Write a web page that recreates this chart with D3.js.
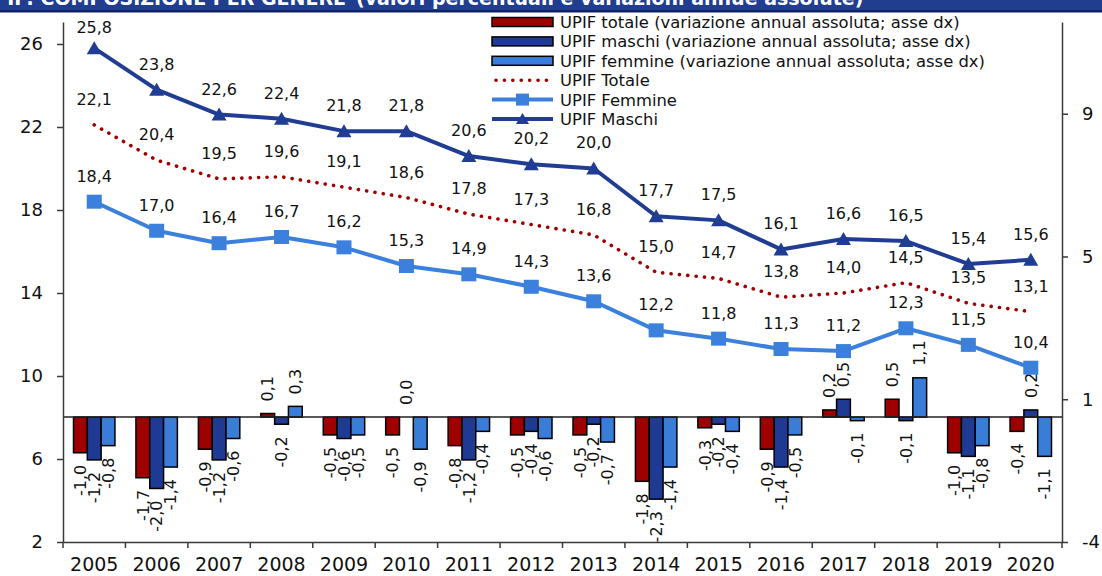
<!DOCTYPE html>
<html lang="it">
<head>
  <meta charset="utf-8">
  <title>UPIF per genere</title>
  <script src="https://cdnjs.cloudflare.com/ajax/libs/d3/7.8.5/d3.min.js"></script>
  <style>
    body { margin: 0; background: #fff; }
    svg { display: block; font-family: "DejaVu Sans", sans-serif; }
    .axis path, .axis line { stroke: #3a3a3a; stroke-width: 1.5; }
    .axis text { fill: #111; font-family: "DejaVu Sans", sans-serif; }
  </style>
</head>
<body>
<svg id="chart" width="1102" height="576"></svg>
<script>
// ---- data ----
var years = ["2005","2006","2007","2008","2009","2010","2011","2012","2013","2014","2015","2016","2017","2018","2019","2020"];

// lines (left axis, %)
var upifMaschi  = [25.8, 23.8, 22.6, 22.4, 21.8, 21.8, 20.6, 20.2, 20.0, 17.7, 17.5, 16.1, 16.6, 16.5, 15.4, 15.6];
var upifTotale  = [22.1, 20.4, 19.5, 19.6, 19.1, 18.6, 17.8, 17.3, 16.8, 15.0, 14.7, 13.8, 14.0, 14.5, 13.5, 13.1];
var upifFemmine = [18.4, 17.0, 16.4, 16.7, 16.2, 15.3, 14.9, 14.3, 13.6, 12.2, 11.8, 11.3, 11.2, 12.3, 11.5, 10.4];

// bars (right axis, annual change)
var varTotale  = [-1.0, -1.7, -0.9, 0.1, -0.5, -0.5, -0.8, -0.5, -0.5, -1.8, -0.3, -0.9, 0.2, 0.5, -1.0, -0.4];
var varMaschi  = [-1.2, -2.0, -1.2, -0.2, -0.6, 0.0, -1.2, -0.4, -0.2, -2.3, -0.2, -1.4, 0.5, -0.1, -1.1, 0.2];
var varFemmine = [-0.8, -1.4, -0.6, 0.3, -0.5, -0.9, -0.4, -0.6, -0.7, -1.4, -0.4, -0.5, -0.1, 1.1, -0.8, -1.1];

var leftTicks = [2, 6, 10, 14, 18, 22, 26];
var rightTicks = [-3.5, 0.5, 4.5, 8.5];
var rightTickLabels = ["-4", "1", "5", "9"];

var titleMain = "UPIF: COMPOSIZIONE PER GENERE";
var titleSub = "(valori percentuali e variazioni annue assolute)";

var barSeries = [
  { name: "UPIF totale (variazione annual assoluta; asse dx)", values: varTotale, color: "#9e0000" },
  { name: "UPIF maschi (variazione annual assoluta; asse dx)", values: varMaschi, color: "#1f3a93" },
  { name: "UPIF femmine (variazione annual assoluta; asse dx)", values: varFemmine, color: "#3a7dd8" }
];
var lineSeries = [
  { name: "UPIF Totale", values: upifTotale, color: "#a00000", marker: null, dotted: true },
  { name: "UPIF Femmine", values: upifFemmine, color: "#3a80dc", marker: "square" },
  { name: "UPIF Maschi", values: upifMaschi, color: "#203c93", marker: "triangle" }
];

// ---- layout ----
var svg = d3.select("#chart");
var plotLeft = 63, plotRight = 1062, plotTop = 22, plotBottom = 542;

var x = d3.scaleBand().domain(years).range([plotLeft, plotRight]).paddingInner(0).paddingOuter(0);
var yL = d3.scaleLinear().domain([2, 27.06]).range([plotBottom, plotTop]);
var yR = d3.scaleLinear().domain([-3.5, 11.07]).range([plotBottom, plotTop]);
var xs = d3.scaleBand().domain(barSeries.map(function (s) { return s.name; }))
  .range([10.5, x.bandwidth() - 10.5]).padding(0);

// title bar (cut off at the top)
svg.append("rect").attr("x", 0).attr("y", 0).attr("width", 1102).attr("height", 11).attr("fill", "#213d8f");
svg.append("rect").attr("x", 0).attr("y", 10).attr("width", 1102).attr("height", 2.5).attr("fill", "#0c2264");
svg.append("clipPath").attr("id", "titleclip").append("rect")
  .attr("x", 0).attr("y", 0).attr("width", 1102).attr("height", 10);
var title = svg.append("g").attr("clip-path", "url(#titleclip)")
  .attr("fill", "#fff").attr("font-weight", "bold").attr("font-size", 19);
title.append("text").attr("x", 346).attr("y", 5).attr("text-anchor", "end").text(titleMain);
title.append("text").attr("x", 356).attr("y", 5).text(titleSub);

// bars
var zeroY = yR(0);
barSeries.forEach(function (s) {
  var g = svg.append("g");
  g.selectAll("rect").data(s.values).enter().append("rect")
    .attr("x", function (d, i) { return x(years[i]) + xs(s.name); })
    .attr("width", xs.bandwidth())
    .attr("y", function (d) { return Math.min(yR(d), zeroY); })
    .attr("height", function (d) { return Math.abs(yR(d) - zeroY); })
    .attr("fill", s.color).attr("stroke", "#000").attr("stroke-width", 1.5);
});

// zero line for bars
svg.append("line").attr("x1", plotLeft).attr("x2", plotRight).attr("y1", zeroY).attr("y2", zeroY)
  .attr("stroke", "#222").attr("stroke-width", 1.5);

// bar labels (rotated)
var fmt = function (v) { return v.toFixed(1).replace(".", ","); };
barSeries.forEach(function (s) {
  svg.append("g").selectAll("text").data(s.values).enter().append("text")
    .attr("transform", function (d, i) {
      var cx = x(years[i]) + xs(s.name) + xs.bandwidth() / 2;
      var cy = d >= 0 ? yR(d) - 12 : yR(d) + 12;
      return "translate(" + cx + "," + cy + ") rotate(-90)";
    })
    .attr("text-anchor", function (d) { return d >= 0 ? "start" : "end"; })
    .attr("dy", "0.36em")
    .attr("font-size", 16).attr("fill", "#111")
    .text(fmt);
});

// lines
lineSeries.forEach(function (s) {
  var line = d3.line()
    .x(function (d, i) { return x(years[i]) + x.bandwidth() / 2; })
    .y(function (d) { return yL(d); });
  var p = svg.append("path").datum(s.values).attr("d", line)
    .attr("fill", "none").attr("stroke", s.color);
  if (s.dotted) {
    p.attr("stroke-width", 3.6).attr("stroke-dasharray", "0.1 8.3").attr("stroke-linecap", "round");
  } else {
    p.attr("stroke-width", 4).attr("stroke-linejoin", "round");
  }
  var g = svg.append("g");
  if (s.marker === "square") {
    g.selectAll("rect").data(s.values).enter().append("rect")
      .attr("x", function (d, i) { return x(years[i]) + x.bandwidth() / 2 - 7.5; })
      .attr("y", function (d) { return yL(d) - 7; })
      .attr("width", 15).attr("height", 14).attr("fill", s.color);
  } else if (s.marker === "triangle") {
    g.selectAll("path").data(s.values).enter().append("path")
      .attr("d", "M0,-7L7.5,6L-7.5,6Z")
      .attr("transform", function (d, i) {
        return "translate(" + (x(years[i]) + x.bandwidth() / 2) + "," + yL(d) + ")";
      })
      .attr("fill", s.color);
  }
  // value labels
  svg.append("g").selectAll("text").data(s.values).enter().append("text")
    .attr("x", function (d, i) { return x(years[i]) + x.bandwidth() / 2; })
    .attr("y", function (d) { return Math.max(yL(d) - 20, 33); })
    .attr("text-anchor", "middle").attr("font-size", 16).attr("fill", "#111")
    .text(fmt);
});

// axes
var axL = svg.append("g").attr("class", "axis").attr("transform", "translate(" + plotLeft + ",0)")
  .call(d3.axisLeft(yL).tickValues(leftTicks).tickSizeInner(6).tickSizeOuter(0).tickPadding(14));
axL.selectAll("text").attr("font-size", 18);

var axR = svg.append("g").attr("class", "axis").attr("transform", "translate(" + plotRight + ",0)")
  .call(d3.axisRight(yR).tickValues(rightTicks).tickSizeInner(6).tickSizeOuter(0).tickPadding(14)
    .tickFormat(function (d, i) { return rightTickLabels[i]; }));
axR.selectAll("text").attr("font-size", 18);

var axB = svg.append("g").attr("class", "axis").attr("transform", "translate(0," + plotBottom + ")")
  .call(d3.axisBottom(x).tickSize(0).tickPadding(16));
axB.selectAll("text").attr("font-size", 19);
// category boundary ticks
axB.selectAll(".bound").data(years.concat(["end"])).enter().append("line")
  .attr("x1", function (d, i) { return i < years.length ? x(d) : plotRight; })
  .attr("x2", function (d, i) { return i < years.length ? x(d) : plotRight; })
  .attr("y1", 0).attr("y2", 6);

// legend
var legend = svg.append("g").attr("transform", "translate(492,22)");
var rowH = 19.4;
barSeries.forEach(function (s, i) {
  legend.append("rect").attr("x", 0).attr("y", i * rowH - 4.5).attr("width", 61).attr("height", 9)
    .attr("fill", s.color).attr("stroke", "#000").attr("stroke-width", 1.5);
});
lineSeries.forEach(function (s, j) {
  var cy = (j + 3) * rowH;
  var l = legend.append("line").attr("x1", 0).attr("x2", 61).attr("y1", cy).attr("y2", cy)
    .attr("stroke", s.color);
  if (s.dotted) {
    l.attr("stroke-width", 3.6).attr("stroke-dasharray", "0.1 8.3").attr("stroke-linecap", "round")
      .attr("x1", 4).attr("x2", 61);
  } else {
    l.attr("stroke-width", 4);
  }
  if (s.marker === "square") {
    legend.append("rect").attr("x", 30.5 - 6.5).attr("y", cy - 6).attr("width", 13).attr("height", 12)
      .attr("fill", s.color);
  } else if (s.marker === "triangle") {
    legend.append("path").attr("d", "M0,-6L6.5,5L-6.5,5Z")
      .attr("transform", "translate(30.5," + cy + ")").attr("fill", s.color);
  }
});
legend.selectAll("text").data(barSeries.concat(lineSeries)).enter().append("text")
  .attr("x", 68).attr("y", function (d, i) { return i * rowH; })
  .attr("dy", "0.36em").attr("font-size", 16.4).attr("fill", "#111")
  .text(function (d) { return d.name; });
</script>
</body>
</html>
